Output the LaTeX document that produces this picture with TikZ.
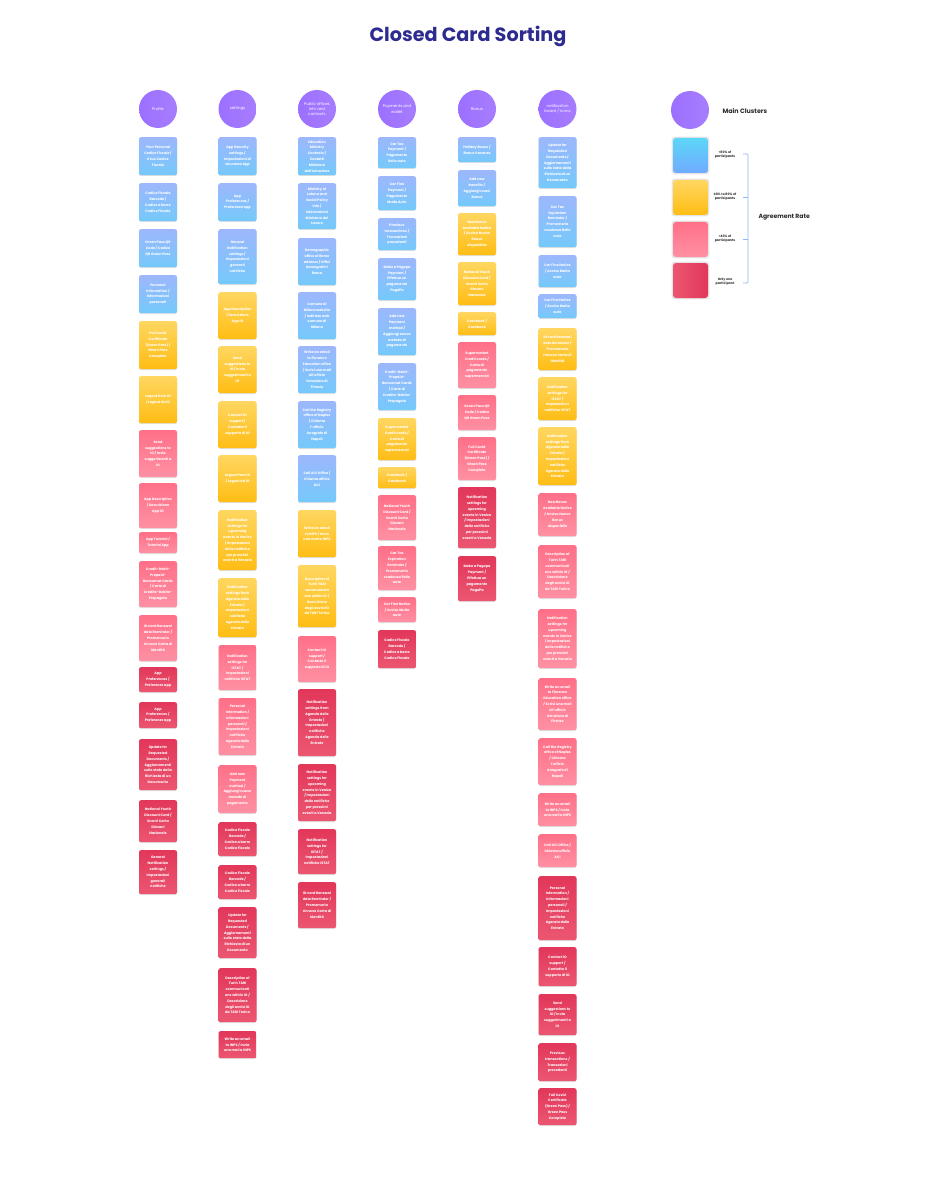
\documentclass[tikz,border=0pt]{standalone}
\usepackage{fontspec}
\setmainfont{Poppins}
\usetikzlibrary{shadows}
\definecolor{titleblue}{HTML}{2D2B8F}
\definecolor{blueA}{HTML}{9DB7FC}
\definecolor{blueB}{HTML}{74C9FB}
\definecolor{yelA}{HTML}{FFD660}
\definecolor{yelB}{HTML}{FFBD14}
\definecolor{pinkA}{HTML}{FF7088}
\definecolor{pinkB}{HTML}{FF90A3}
\definecolor{redA}{HTML}{E2375A}
\definecolor{redB}{HTML}{EC5671}
\definecolor{purA}{HTML}{A77DFF}
\definecolor{purB}{HTML}{9C70FF}
\definecolor{brace}{HTML}{8DB8F2}
\definecolor{legtext}{HTML}{2A2A2A}
\definecolor{cyanA}{HTML}{5CD6F8}
\definecolor{cyanB}{HTML}{70ABFF}

\newcommand\tYourCF{Your Personal\\Codice Fiscale /\\Il tuo Codice\\Fiscale}
\newcommand\tCFBar{Codice Fiscale\\Barcode /\\Codice a barre\\Codice Fiscale}
\newcommand\tGreenQR{Green Pass QR\\Code / Codice\\QR Green Pass}
\newcommand\tPersonal{Personal\\information /\\Informazioni\\personali}
\newcommand\tFullCovid{Full Covid\\Certificate\\(Green Pass) /\\Green Pass\\Completo}
\newcommand\tLogout{Logout from IO\\/ Logout da IO}
\newcommand\tSend{Send\\suggestions to\\IO / Invia\\suggerimenti a\\IO}
\newcommand\tAppDesc{App Description\\/ Descrizione\\App IO}
\newcommand\tTutorial{App Tutorial /\\Tutorial App}
\newcommand\tCredit{Credit-Debit-\\Prepaid-\\Bancomat Cards\\/ Carte di\\Credito-Debito-\\Prepagate}
\newcommand\tIDcard{ID card Renewal\\date Reminder /\\Promemoria\\rinnovo Carta di\\Identità}
\newcommand\tAppPref{App\\Preferences /\\Preferenze app}
\newcommand\tUpdate{Update for\\Requested\\Documents /\\Aggiornamenti\\sullo stato della\\Richiesta di un\\Documento}
\newcommand\tYouth{National Youth\\Discount Card /\\Sconti Carta\\Giovani\\Nazionale}
\newcommand\tGeneral{General\\Notification\\settings /\\Impostazioni\\generali\\notifiche}
\newcommand\tSecurity{App Security\\settings /\\Impostazioni di\\sicurezza App}
\newcommand\tContact{Contact IO\\support /\\Contatta il\\supporto di IO}
\newcommand\tVenice{Notification\\settings for\\upcoming\\events in Venice\\/ Impostazioni\\delle notifiche\\per prossimi\\eventi a Venezia}
\newcommand\tAgenzia{Notification\\settings from\\Agenzia delle\\Entrate /\\Impostazioni\\notifiche\\Agenzia delle\\Entrate}
\newcommand\tIstat{Notification\\settings for\\ISTAT /\\Impostazioni\\notifiche ISTAT}
\newcommand\tPersInfo{Personal\\Information /\\Informazioni\\personali /\\Impostazioni\\notifiche\\Agenzia delle\\Entrate}
\newcommand\tAddPay{Add new\\Payment\\method /\\Aggiungi nuovo\\metodo di\\pagamento}
\newcommand\tTari{Description of\\Turin TARI\\communicati\\ons within IO /\\Descrizione\\degli avvisi IO\\da TARI Torino}
\newcommand\tInps{Write an email\\to INPS / Invia\\una mail a INPS}
\newcommand\tEdu{Education\\Ministry\\Contacts /\\Contatti\\Ministero\\dell'Istruzione}
\newcommand\tLabour{Ministry of\\Labour and\\Social Policy\\Info /\\Informazioni\\Ministero del\\Lavoro}
\newcommand\tRome{Demographic\\office of Rome\\address / Uffici\\demografici\\Roma}
\newcommand\tMilano{Comune di\\Milano website\\/ Indirizzo web\\comune di\\Milano}
\newcommand\tFlorence{Write an email\\to Florence\\Education office\\/ Scrivi una mail\\all'ufficio\\istruzione di\\Firenze}
\newcommand\tNaples{Call the Registry\\office of Naples\\/ Chiama\\l'ufficio\\Anagrafe di\\Napoli}
\newcommand\tAci{Call ACI Office /\\Chiama ufficio\\ACI}
\newcommand\tCarTax{Car Tax\\Payment /\\Pagamento\\Bollo auto}
\newcommand\tCarFinePay{Car Fine\\Payment /\\Pagamento\\Multa Auto}
\newcommand\tPrev{Previous\\transactions /\\Transazioni\\precedenti}
\newcommand\tPagopa{Make a Pagopa\\Payment /\\Effettua un\\pagamento\\PagoPa}
\newcommand\tSuper{Supermarket\\Credit cards /\\Carta di\\pagamento\\supermercati}
\newcommand\tCash{Cashback /\\Cashback}
\newcommand\tCarExp{Car Tax\\Expiration\\Reminder /\\Promemoria\\scadenza Bollo\\auto}
\newcommand\tCarFine{Car Fine Notice\\/ Avviso Multa\\auto}
\newcommand\tHoliday{Holiday Bonus /\\Bonus Vacanze}
\newcommand\tBenefits{Add new\\benefits /\\Aggiungi nuovi\\Bonus}
\newcommand\tNewBonus{New Bonus\\Available Notice\\/ Avviso Nuovo\\Bonus\\disponibile}

\newcommand\card[6]{\node[#5, anchor=north, minimum height={(#4-#3)*1pt}] (#1) at (#2,#3) {#6};}

\tikzset{
  cardbase/.style={rounded corners=2pt, minimum width=38pt, inner sep=1pt, text=white, align=center,
    font=\fontsize{3.4}{5.8}\selectfont\bfseries,
    drop shadow={shadow xshift=0pt, shadow yshift=-0.8pt, opacity=0.12, fill=black}},
  cblue/.style={cardbase, top color=blueA, bottom color=blueB},
  cyel/.style={cardbase, top color=yelA, bottom color=yelB},
  cpink/.style={cardbase, top color=pinkA, bottom color=pinkB},
  cred/.style={cardbase, top color=redA, bottom color=redB},
  cluster/.style={circle, minimum size=38pt, inner sep=0pt, left color=purB, right color=purA,
    text=white, align=center, font=\fontsize{3.9}{5.4}\selectfont},
  legsq/.style={rounded corners=3pt, minimum size=35pt, inner sep=0pt,
    drop shadow={shadow xshift=0pt, shadow yshift=0pt, opacity=0.10, fill=black, shadow scale=1.08}},
  leglabel/.style={align=center, text=legtext, font=\fontsize{3.2}{4.2}\selectfont\bfseries},
  bracestyle/.style={draw=brace, line width=0.7pt, rounded corners=1.2pt}
}

\begin{document}
\begin{tikzpicture}[x=1pt, y=-1pt]
\useasboundingbox[fill=white] (0,0) rectangle (936,1190);

\node[text=titleblue, font=\fontsize{19.2}{22}\selectfont\bfseries] (title) at (468,36) {Closed Card Sorting};

% cluster headers
\node[cluster] (h1) at (158,109) {Profile};
\node[cluster] (h2) at (237.5,109) {settings};
\node[cluster] (h3) at (317,109) {Public offices\\info and\\contacts};
\node[cluster] (h4) at (397,109) {Payments and\\wallet};
\node[cluster] (h5) at (477,109) {Bonus};
\node[cluster] (h6) at (557.5,109) {notification\\board / icons};

% column 1
\card{a1}{158}{137}{175}{cblue}{\tYourCF}
\card{a2}{158}{183}{221}{cblue}{\tCFBar}
\card{a3}{158}{229}{267}{cblue}{\tGreenQR}
\card{a4}{158}{275}{313}{cblue}{\tPersonal}
\card{a5}{158}{321}{369}{cyel}{\tFullCovid}
\card{a6}{158}{376}{423}{cyel}{\tLogout}
\card{a7}{158}{430}{477}{cpink}{\tSend}
\card{a8}{158}{483}{528}{cpink}{\tAppDesc}
\card{a9}{158}{532}{553}{cpink}{\tTutorial}
\card{a10}{158}{561}{607}{cpink}{\tCredit}
\card{a11}{158}{615}{661}{cpink}{\tIDcard}
\card{a12}{158}{667}{692}{cred}{\tAppPref}
\card{a13}{158}{702}{728}{cred}{\tAppPref}
\card{a14}{158}{739}{790}{cred}{\tUpdate}
\card{a15}{158}{800}{842}{cred}{\tYouth}
\card{a16}{158}{850}{894}{cred}{\tGeneral}

% column 2
\card{b1}{237.5}{137}{175}{cblue}{\tSecurity}
\card{b2}{237.5}{183}{221}{cblue}{\tAppPref}
\card{b3}{237.5}{229}{284}{cblue}{\tGeneral}
\card{b4}{237.5}{292}{339}{cyel}{\tAppDesc}
\card{b5}{237.5}{346}{393}{cyel}{\tSend}
\card{b6}{237.5}{401}{448}{cyel}{\tContact}
\card{b7}{237.5}{455}{502}{cyel}{\tLogout}
\card{b8}{237.5}{510}{570}{cyel}{\tVenice}
\card{b9}{237.5}{578}{637}{cyel}{\tAgenzia}
\card{b10}{237.5}{645}{690}{cpink}{\tIstat}
\card{b11}{237.5}{698}{755}{cpink}{\tPersInfo}
\card{b12}{237.5}{765}{813}{cpink}{\tAddPay}
\card{b13}{237.5}{822}{856}{cred}{\tCFBar}
\card{b14}{237.5}{865}{899}{cred}{\tCFBar}
\card{b15}{237.5}{907}{958}{cred}{\tUpdate}
\card{b16}{237.5}{968}{1022}{cred}{\tTari}
\card{b17}{237.5}{1031}{1058}{cred}{\tInps}

% column 3
\card{c1}{317}{137}{175}{cblue}{\tEdu}
\card{c2}{317}{183}{229}{cblue}{\tLabour}
\card{c3}{317}{238}{285}{cblue}{\tRome}
\card{c4}{317}{292}{339}{cblue}{\tMilano}
\card{c5}{317}{346}{393}{cblue}{\tFlorence}
\card{c6}{317}{401}{448}{cblue}{\tNaples}
\card{c7}{317}{455}{502}{cblue}{\tAci}
\card{c8}{317}{510}{557}{cyel}{\tInps}
\card{c9}{317}{565}{627}{cyel}{\tTari}
\card{c10}{317}{636}{682}{cpink}{\tContact}
\card{c11}{317}{689}{756}{cred}{\tAgenzia}
\card{c12}{317}{764}{821}{cred}{\tVenice}
\card{c13}{317}{829}{874}{cred}{\tIstat}
\card{c14}{317}{882}{928}{cred}{\tIDcard}

% column 4
\card{d1}{397}{137}{168}{cblue}{\tCarTax}
\card{d2}{397}{176}{210}{cblue}{\tCarFinePay}
\card{d3}{397}{218}{250}{cblue}{\tPrev}
\card{d4}{397}{258}{300}{cblue}{\tPagopa}
\card{d5}{397}{308}{355}{cblue}{\tAddPay}
\card{d6}{397}{363}{410}{cblue}{\tCredit}
\card{d7}{397}{418}{460}{cyel}{\tSuper}
\card{d8}{397}{467}{488}{cyel}{\tCash}
\card{d9}{397}{495}{540}{cpink}{\tYouth}
\card{d10}{397}{546}{590}{cpink}{\tCarExp}
\card{d11}{397}{597}{622}{cpink}{\tCarFine}
\card{d12}{397}{630}{668}{cred}{\tCFBar}

% column 5
\card{e1}{477}{137}{162}{cblue}{\tHoliday}
\card{e2}{477}{170}{206}{cblue}{\tBenefits}
\card{e3}{477}{213}{255}{cyel}{\tNewBonus}
\card{e4}{477}{262}{305}{cyel}{\tYouth}
\card{e5}{477}{312}{335}{cyel}{\tCash}
\card{e6}{477}{342}{388}{cpink}{\tSuper}
\card{e7}{477}{395}{430}{cpink}{\tGreenQR}
\card{e8}{477}{437}{480}{cpink}{\tFullCovid}
\card{e9}{477}{487}{548}{cred}{\tVenice}
\card{e10}{477}{556}{601}{cred}{\tPagopa}

% column 6
\card{f1}{557.5}{137}{188}{cblue}{\tUpdate}
\card{f2}{557.5}{196}{247}{cblue}{\tCarExp}
\card{f3}{557.5}{255}{287}{cblue}{\tCarFine}
\card{f4}{557.5}{294}{318}{cblue}{\tCarFine}
\card{f5}{557.5}{328}{370}{cyel}{\tIDcard}
\card{f6}{557.5}{377}{420}{cyel}{\tIstat}
\card{f7}{557.5}{427}{485}{cyel}{\tAgenzia}
\card{f8}{557.5}{493}{536}{cpink}{\tNewBonus}
\card{f9}{557.5}{545}{598}{cpink}{\tTari}
\card{f10}{557.5}{609}{668}{cpink}{\tVenice}
\card{f11}{557.5}{678}{730}{cpink}{\tFlorence}
\card{f12}{557.5}{738}{785}{cpink}{\tNaples}
\card{f13}{557.5}{793}{826}{cpink}{\tInps}
\card{f14}{557.5}{834}{867}{cpink}{\tAci}
\card{f15}{557.5}{876}{940}{cred}{\tPersInfo}
\card{f16}{557.5}{947}{986}{cred}{\tContact}
\card{f17}{557.5}{994}{1035}{cred}{\tSend}
\card{f18}{557.5}{1043}{1081}{cred}{\tPrev}
\card{f19}{557.5}{1088}{1125}{cred}{\tFullCovid}

% legend
\node[cluster] (lc) at (690,110) {};
\node[anchor=west, text=legtext, font=\fontsize{6.3}{7}\selectfont\bfseries] (lmain) at (719,111) {Main Clusters};
\node[legsq, top color=cyanA, bottom color=cyanB] (l1) at (690.5,155.5) {};
\node[legsq, top color=yelA, bottom color=yelB] (l2) at (690.5,197.5) {};
\node[legsq, top color=pinkA, bottom color=pinkB] (l3) at (690.5,239.5) {};
\node[legsq, left color=redB, right color=redA] (l4) at (690.5,280.5) {};
\node[leglabel] (t1) at (725,154.5) {>80\% of\\participants};
\node[leglabel] (t2) at (725,196.5) {40\% to 80\% of\\participants};
\node[leglabel] (t3) at (725,239) {<40\% of\\participants};
\node[leglabel] (t4) at (725,281.5) {Only one\\participant};
\coordinate (br1) at (743,154);
\coordinate (br2) at (743,197);
\coordinate (br3) at (743,239);
\coordinate (br4) at (743,283);
\draw[bracestyle] (br1) -| (748,283) -- (br4);
\draw[bracestyle] (br2) -- (748,197);
\draw[bracestyle] (br3) -- (748,239);
\node[anchor=west, text=legtext, font=\fontsize{6.1}{7}\selectfont\bfseries] (lagr) at (755,217.5) {Agreement Rate};
\end{tikzpicture}
\end{document}
